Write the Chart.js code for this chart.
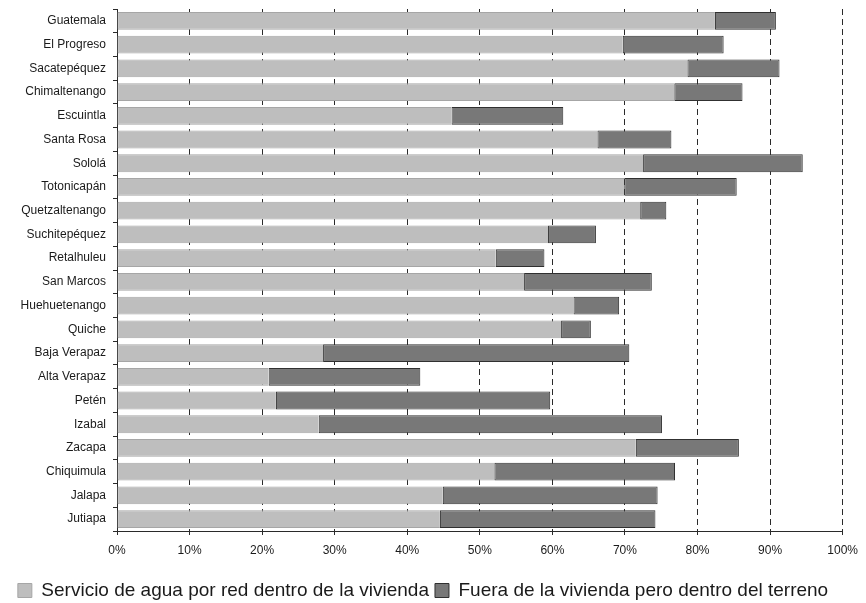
<!DOCTYPE html>
<html>
<head>
<meta charset="utf-8">
<script src="https://cdn.jsdelivr.net/npm/chart.js@4/dist/chart.umd.min.js"></script>
<style>
  html, body { margin: 0; padding: 0; background: #fff; }
  #wrap { width: 866px; height: 603px; }
</style>
</head>
<body>
<div id="wrap"><canvas id="grafica"></canvas></div>
<script>
// Departamentos (de arriba hacia abajo)
const departamentos = ['Guatemala', 'El Progreso', 'Sacatepéquez', 'Chimaltenango', 'Escuintla', 'Santa Rosa',
  'Sololá', 'Totonicapán', 'Quetzaltenango', 'Suchitepéquez', 'Retalhuleu', 'San Marcos', 'Huehuetenango',
  'Quiche', 'Baja Verapaz', 'Alta Verapaz', 'Petén', 'Izabal', 'Zacapa', 'Chiquimula', 'Jalapa', 'Jutiapa']

// % con servicio de agua por red dentro de la vivienda
const dentroVivienda = [82.4, 69.7, 78.6, 76.8, 46.1, 66.2, 72.5, 69.9, 72.1, 59.4, 52.2,
  56.1, 62.9, 61.2, 28.4, 20.9, 21.9, 27.8, 71.5, 52.0, 44.9, 44.5]

// % fuera de la vivienda pero dentro del terreno
const fueraVivienda = [8.4, 13.9, 12.7, 9.4, 15.4, 10.2, 22.0, 15.5, 3.6, 6.6, 6.7,
  17.6, 6.3, 4.1, 42.2, 20.9, 37.8, 47.3, 14.2, 24.9, 29.6, 29.7]

const etiquetas = ['Servicio de agua por red dentro de la vivienda', 'Fuera de la vivienda pero dentro del terreno']

const fuente = '"Liberation Sans", Arial, sans-serif'

new Chart(document.getElementById('grafica'), {
  type: 'bar',
  data: {
    labels: departamentos,
    datasets: [{
      label: etiquetas[0],
      data: dentroVivienda,
      backgroundColor: '#bebebe',
      borderColor: '#a6a6a6',
      borderWidth: 1,
      borderSkipped: 'end'
    },
    {
      label: etiquetas[1],
      data: fueraVivienda,
      backgroundColor: '#787878',
      borderColor: '#303030',
      borderWidth: 1,
      borderSkipped: false
    }]
  },
  options: {
    indexAxis: 'y',
    responsive: true,
    maintainAspectRatio: false,
    animation: false,
    // el padding inferior negativo baja la leyenda hasta el borde
    layout: { padding: { top: 9, right: 20, left: 0, bottom: -7 } },
    datasets: { bar: { barPercentage: 0.75, categoryPercentage: 1 } },
    scales: {
      x: {
        stacked: true,
        min: 0,
        max: 100,
        ticks: {
          stepSize: 10,
          padding: 8,
          color: '#1a1a1a',
          font: { family: fuente, size: 12 },
          callback: (v) => v + '%'
        },
        grid: { color: '#2a2a2a', lineWidth: 1, tickLength: 4, tickColor: '#2a2a2a' },
        border: { display: true, color: '#2a2a2a', width: 1, dash: [6, 4] },
        afterFit: (escala) => { escala.height = 44 }
      },
      y: {
        stacked: true,
        ticks: {
          padding: 7,
          color: '#1a1a1a',
          font: { family: fuente, size: 12 }
        },
        grid: { drawOnChartArea: false, tickLength: 4, tickColor: '#2a2a2a' },
        border: { display: true, color: '#2a2a2a', width: 1 },
        afterFit: (escala) => {
          escala.width = 117
          escala.paddingTop = 0
          escala.paddingBottom = 0
        }
      }
    },
    plugins: {
      tooltip: { enabled: false },
      legend: {
        position: 'bottom',
        labels: {
          boxWidth: 14,
          boxHeight: 14,
          padding: 6,
          color: '#1a1a1a',
          font: { family: fuente, size: 19, lineHeight: 1 }
        }
      }
    }
  }
})
</script>
</body>
</html>
